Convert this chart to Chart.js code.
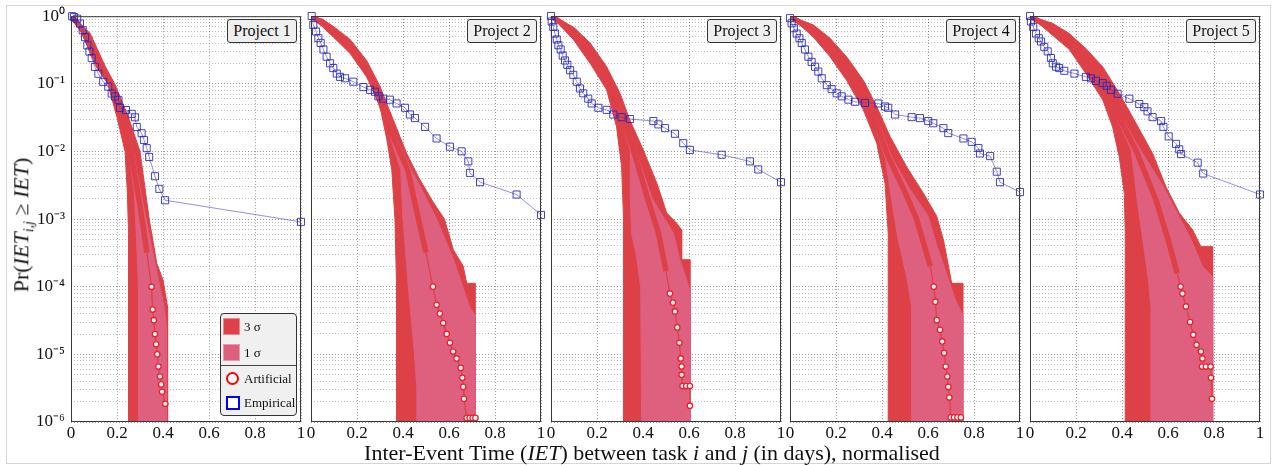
<!DOCTYPE html>
<html>
<head>
<meta charset="utf-8">
<title>Inter-event time distributions</title>
<script src="https://cdn.jsdelivr.net/npm/chart.js@4.4.1/dist/chart.umd.min.js"></script>
<style>
  html, body { margin: 0; padding: 0; background: #fff; }
  body { position: relative; width: 1273px; height: 465px; overflow: hidden;
         font-family: "Liberation Serif", "Times New Roman", serif; color: #111; }
  .frame { position: absolute; left: 6px; top: 5px; width: 1263px; height: 457px; border: 1px solid #d6d6d6; }
  .panel { position: absolute; top: 0; width: 300px; height: 465px; }
  .tag { position: absolute; top: 19px; width: 70px; height: 24px; box-sizing: border-box;
         border: 1px solid #333; border-radius: 3px; background: #efefef;
         font-size: 16px; line-height: 22px; text-align: center; white-space: nowrap; }
  .legend { position: absolute; left: 220px; top: 313px; width: 77px; height: 103px; box-sizing: border-box;
            border: 1px solid #333; border-radius: 4px; background: #f0f0f0; font-size: 13px; }
  .legend .sw { position: absolute; left: 2px; width: 17px; height: 17px; box-sizing: border-box; }
  .legend .lb { position: absolute; left: 23px; line-height: 16px; white-space: nowrap; }
  .legend .sep { position: absolute; left: 0; right: 0; top: 51px; border-top: 1px solid #444; }
  .ytitle { position: absolute; left: 23px; top: 225px; transform: translate(-50%, -50%) rotate(-90deg);
            font-size: 22px; white-space: nowrap; }
  .ytitle sub { font-size: 14px; }
  .xtitle { position: absolute; left: 652px; top: 453px; transform: translate(-50%, -50%);
            font-size: 22px; white-space: nowrap; }
</style>
</head>
<body>
<div class="frame"></div>
<div class="panel" style="left:11px"><canvas id="c0" width="300" height="465"></canvas></div>
<div class="panel" style="left:251px"><canvas id="c1" width="300" height="465"></canvas></div>
<div class="panel" style="left:491px"><canvas id="c2" width="300" height="465"></canvas></div>
<div class="panel" style="left:730px"><canvas id="c3" width="300" height="465"></canvas></div>
<div class="panel" style="left:970px"><canvas id="c4" width="300" height="465"></canvas></div>

<div id="tags"></div>

<div class="legend">
  <div class="sw" style="top:4px;background:#dd4147;border:1px solid #ea8a90"></div><div class="lb" style="top:5px">3 σ</div>
  <div class="sw" style="top:30px;background:#df5f7f;border:1px solid #eb98ae"></div><div class="lb" style="top:31px">1 σ</div>
  <div class="sep"></div>
  <div class="sw" style="top:58px;left:5px;width:13px;height:13px;border:2.5px solid #f00;border-radius:50%;background:#fff"></div><div class="lb" style="top:57px">Artificial</div>
  <div class="sw" style="top:82px;left:5px;width:14px;height:14px;border:2.5px solid #00f;background:#fff"></div><div class="lb" style="top:81px">Empirical</div>
</div>

<div class="ytitle">Pr(<i>IET</i><sub><i>i,j</i></sub> ≥ <i>IET</i>)</div>
<div class="xtitle">Inter-Event Time (<i>IET</i>) between task <i>i</i> and <i>j</i> (in days), normalised</div>

<script>
// ejes
const projects = ['Project 1', 'Project 2', 'Project 3', 'Project 4', 'Project 5'];
const xTicks = [0, 0.2, 0.4, 0.6, 0.8, 1];
const yDecades = [1e-6, 1e-5, 1e-4, 1e-3, 1e-2, 1e-1, 1];
const yTickLabels = ['10⁻⁶', '10⁻⁵', '10⁻⁴', '10⁻³', '10⁻²', '10⁻¹', '10⁰'];
const yMinor = [2, 3, 4, 5, 6, 7, 8, 9];

// Project 1  [x, Pr]
const emp1 = [[0.005,1],[0.013,0.97],[0.027,0.92],[0.039,0.78],[0.051,0.62],[0.061,0.49],[0.071,0.37],[0.08,0.30],[0.09,0.24],[0.104,0.178],[0.119,0.141],[0.14,0.107],[0.162,0.091],[0.177,0.072],[0.191,0.065],[0.206,0.058],[0.213,0.044],[0.239,0.041],[0.264,0.036],[0.278,0.032],[0.286,0.023],[0.307,0.0186],[0.317,0.0148],[0.329,0.0112],[0.34,0.0083],[0.365,0.0043],[0.384,0.0028],[0.409,0.0019],[1,0.00091]];
const mean1 = [[0,1],[0.065,0.56],[0.13,0.178],[0.175,0.1],[0.22,0.032],[0.26,0.01],[0.3,1.58e-3],[0.33,3.2e-4],[0.35,1e-4],[0.355,4.6e-5],[0.36,3.2e-5],[0.365,2e-5],[0.37,1.41e-5],[0.375,1e-5],[0.38,6.6e-6],[0.387,4.7e-6],[0.392,3.6e-6],[0.396,2.8e-6],[0.41,1.86e-6]];
const hi3_1 = [[0,1],[0.083,0.56],[0.15,0.178],[0.19,0.1],[0.25,0.032],[0.3,0.01],[0.34,0.001],[0.373,2.2e-4],[0.4,1.26e-4],[0.416,6e-5],[0.42,5e-5],[0.42,1e-6]];
const lo3_1 = [[0,1],[0.046,0.56],[0.11,0.178],[0.16,0.1],[0.2,0.032],[0.235,0.01],[0.245,2.5e-3],[0.25,6.3e-4],[0.25,1e-6]];
const hi1_1 = [[0,1],[0.072,0.56],[0.137,0.178],[0.182,0.1],[0.228,0.032],[0.27,0.01],[0.315,1.58e-3],[0.35,4e-4],[0.38,1.26e-4],[0.405,5e-5],[0.415,2.5e-5],[0.415,1e-6]];
const lo1_1 = [[0,1],[0.058,0.56],[0.123,0.178],[0.168,0.1],[0.212,0.032],[0.252,0.01],[0.275,2.5e-3],[0.285,5e-4],[0.293,1e-4],[0.293,1e-6]];

// Project 2
const emp2 = [[0.003,1],[0.01,0.74],[0.022,0.59],[0.032,0.47],[0.042,0.40],[0.054,0.32],[0.068,0.25],[0.083,0.2],[0.097,0.17],[0.112,0.141],[0.126,0.126],[0.148,0.12],[0.184,0.107],[0.228,0.089],[0.257,0.081],[0.278,0.076],[0.293,0.065],[0.314,0.06],[0.343,0.058],[0.372,0.051],[0.409,0.044],[0.43,0.035],[0.452,0.031],[0.496,0.023],[0.546,0.0155],[0.604,0.0117],[0.655,0.01],[0.684,7.1e-3],[0.691,4.8e-3],[0.735,3.5e-3],[0.894,2.3e-3],[1,1.15e-3]];
const mean2 = [[0,1],[0.1,0.6],[0.2,0.26],[0.28,0.089],[0.34,0.022],[0.42,5.4e-3],[0.467,1e-3],[0.5,3.2e-4],[0.53,1e-4],[0.546,5.4e-5],[0.56,4e-5],[0.575,2.9e-5],[0.59,2e-5],[0.604,1.48e-5],[0.618,1.1e-5],[0.633,8.7e-6],[0.651,6.3e-6],[0.658,4.5e-6],[0.662,3.3e-6],[0.665,2.2e-6],[0.677,1.15e-6],[0.69,1.15e-6],[0.703,1.15e-6],[0.715,1.15e-6]];
const hi3_2 = [[0,1],[0.05,0.9],[0.1,0.69],[0.17,0.45],[0.242,0.22],[0.3,0.091],[0.358,0.029],[0.416,9.3e-3],[0.47,4e-3],[0.53,1.8e-3],[0.58,1e-3],[0.619,3.5e-4],[0.662,2e-4],[0.677,1.12e-4],[0.713,1.12e-4],[0.713,1e-6]];
const lo3_2 = [[0,1],[0.097,0.49],[0.17,0.28],[0.242,0.126],[0.3,0.046],[0.33,0.0148],[0.351,5.4e-3],[0.365,1e-3],[0.372,1e-4],[0.372,1e-6]];
const hi1_2 = [[0,1],[0.108,0.6],[0.208,0.26],[0.288,0.089],[0.35,0.022],[0.435,5.4e-3],[0.48,2.8e-3],[0.546,1e-3],[0.62,2.5e-4],[0.66,1e-4],[0.69,5e-5],[0.713,3.8e-5],[0.713,1e-6]];
const lo1_2 = [[0,1],[0.092,0.6],[0.192,0.26],[0.272,0.089],[0.332,0.022],[0.39,5.4e-3],[0.4,1e-3],[0.423,1e-4],[0.45,1e-5],[0.46,3.2e-6],[0.46,1e-6]];

// Project 3
const emp3 = [[0,1],[0.003,0.83],[0.01,0.69],[0.017,0.55],[0.025,0.45],[0.032,0.37],[0.042,0.32],[0.051,0.26],[0.061,0.22],[0.071,0.19],[0.083,0.158],[0.097,0.135],[0.112,0.107],[0.126,0.085],[0.14,0.072],[0.162,0.06],[0.177,0.051],[0.206,0.044],[0.242,0.041],[0.271,0.035],[0.307,0.032],[0.343,0.03],[0.445,0.028],[0.467,0.025],[0.496,0.022],[0.539,0.0182],[0.575,0.0132],[0.604,0.0105],[0.742,8.9e-3],[0.865,7.1e-3],[0.901,5.4e-3],[1,3.5e-3]];
const mean3 = [[0,1],[0.1,0.6],[0.2,0.2],[0.26,0.079],[0.31,0.032],[0.36,0.01],[0.42,2e-3],[0.467,6.2e-4],[0.5,1.7e-4],[0.517,7.9e-5],[0.53,5.8e-5],[0.539,4.3e-5],[0.549,2.5e-5],[0.558,1.48e-5],[0.564,8.7e-6],[0.568,6.6e-6],[0.568,5e-6],[0.572,3.4e-6],[0.588,3.4e-6],[0.604,3.4e-6],[0.604,1.74e-6]];
const hi3_3 = [[0,1],[0.097,0.69],[0.17,0.40],[0.242,0.178],[0.3,0.072],[0.343,0.029],[0.401,0.0105],[0.46,3.4e-3],[0.503,1.23e-3],[0.546,8.7e-4],[0.568,6.9e-4],[0.568,2.5e-4],[0.604,2.5e-4],[0.604,1e-6]];
const lo3_3 = [[0,1],[0.097,0.45],[0.17,0.2],[0.242,0.081],[0.285,0.023],[0.307,5.9e-3],[0.315,1.1e-3],[0.315,1e-6]];
const hi1_3 = [[0,1],[0.108,0.6],[0.208,0.2],[0.268,0.079],[0.318,0.032],[0.37,0.01],[0.44,2e-3],[0.532,6.2e-4],[0.56,2.5e-4],[0.59,1.26e-4],[0.604,8.5e-5],[0.604,1e-6]];
const lo1_3 = [[0,1],[0.092,0.6],[0.192,0.2],[0.252,0.079],[0.302,0.032],[0.345,0.01],[0.345,2e-3],[0.35,6.2e-4],[0.37,3e-4],[0.39,1e-4],[0.394,1e-6]];

// Project 4
const emp4 = [[0,0.93],[0.007,0.78],[0.017,0.66],[0.029,0.55],[0.041,0.47],[0.051,0.4],[0.065,0.32],[0.08,0.25],[0.094,0.21],[0.109,0.178],[0.123,0.151],[0.138,0.12],[0.16,0.095],[0.181,0.083],[0.203,0.072],[0.225,0.065],[0.254,0.058],[0.283,0.054],[0.326,0.052],[0.384,0.051],[0.413,0.046],[0.427,0.044],[0.457,0.035],[0.529,0.032],[0.565,0.031],[0.601,0.028],[0.623,0.026],[0.667,0.022],[0.688,0.0186],[0.754,0.0155],[0.79,0.0138],[0.819,0.0112],[0.826,9.3e-3],[0.87,8.5e-3],[0.899,5e-3],[0.913,3.5e-3],[1,2.5e-3]];
const mean4 = [[0,1],[0.1,0.6],[0.2,0.26],[0.3,0.085],[0.37,0.028],[0.43,7.9e-3],[0.5,2.5e-3],[0.55,1e-3],[0.61,2e-4],[0.625,1e-4],[0.632,6e-5],[0.638,3.2e-5],[0.652,2.3e-5],[0.662,1.55e-5],[0.67,1.05e-5],[0.677,6.6e-6],[0.684,4.7e-6],[0.688,3.3e-6],[0.693,2.3e-6],[0.699,1.17e-6],[0.713,1.17e-6],[0.728,1.17e-6],[0.743,1.17e-6]];
const hi3_4 = [[0,1],[0.101,0.74],[0.174,0.47],[0.246,0.25],[0.319,0.112],[0.377,0.046],[0.435,0.0166],[0.507,5.9e-3],[0.58,2.4e-3],[0.638,1.1e-3],[0.667,4.9e-4],[0.681,2.8e-4],[0.703,1.12e-4],[0.751,1.12e-4],[0.751,1e-6]];
const lo3_4 = [[0,1],[0.101,0.49],[0.174,0.25],[0.246,0.112],[0.319,0.041],[0.377,0.0132],[0.413,3.4e-3],[0.427,6.2e-4],[0.427,1e-6]];
const hi1_4 = [[0,1],[0.108,0.6],[0.208,0.26],[0.308,0.085],[0.38,0.028],[0.445,7.9e-3],[0.52,2.8e-3],[0.6,1.12e-3],[0.64,3.9e-4],[0.68,1.58e-4],[0.72,6.3e-5],[0.751,3.8e-5],[0.751,1e-6]];
const lo1_4 = [[0,1],[0.092,0.6],[0.192,0.26],[0.292,0.085],[0.362,0.028],[0.415,7.9e-3],[0.45,1.26e-3],[0.47,5e-4],[0.51,1.26e-4],[0.529,5e-5],[0.529,1e-6]];

// Project 5
const emp5 = [[0,1],[0.004,0.83],[0.014,0.69],[0.026,0.55],[0.038,0.47],[0.048,0.42],[0.062,0.35],[0.077,0.3],[0.091,0.24],[0.099,0.2],[0.113,0.178],[0.127,0.17],[0.149,0.155],[0.193,0.141],[0.243,0.126],[0.265,0.12],[0.287,0.11],[0.316,0.102],[0.333,0.093],[0.352,0.081],[0.381,0.071],[0.432,0.06],[0.475,0.05],[0.497,0.045],[0.511,0.039],[0.533,0.032],[0.57,0.028],[0.58,0.023],[0.603,0.0166],[0.635,0.0129],[0.649,0.0107],[0.657,9.1e-3],[0.729,6.8e-3],[0.753,4.7e-3],[1,2.3e-3]];
const mean5 = [[0,1],[0.1,0.63],[0.2,0.32],[0.3,0.12],[0.38,0.035],[0.46,0.0105],[0.548,1.9e-3],[0.6,5e-4],[0.64,1.58e-4],[0.655,1e-4],[0.663,7.9e-5],[0.678,5.1e-5],[0.696,3e-5],[0.71,1.95e-5],[0.724,1.38e-5],[0.743,1.1e-5],[0.75,8.7e-6],[0.748,6.6e-6],[0.765,6.6e-6],[0.785,6.6e-6],[0.787,4.5e-6],[0.791,2.2e-6]];
const hi3_5 = [[0,1],[0.098,0.78],[0.171,0.55],[0.243,0.33],[0.316,0.178],[0.388,0.072],[0.461,0.026],[0.533,9.3e-3],[0.591,3e-3],[0.649,1.23e-3],[0.707,6.9e-4],[0.743,3.9e-4],[0.794,3.9e-4],[0.794,1e-6]];
const lo3_5 = [[0,1],[0.098,0.52],[0.171,0.32],[0.243,0.141],[0.316,0.058],[0.359,0.023],[0.388,8.3e-3],[0.41,2.4e-3],[0.414,6.2e-4],[0.414,1e-6]];
const hi1_5 = [[0,1],[0.108,0.63],[0.208,0.32],[0.308,0.12],[0.39,0.035],[0.48,0.0105],[0.58,3e-3],[0.65,1.05e-3],[0.7,5e-4],[0.75,2e-4],[0.794,1.41e-4],[0.794,1e-6]];
const lo1_5 = [[0,1],[0.092,0.63],[0.192,0.32],[0.292,0.12],[0.37,0.035],[0.44,0.0105],[0.465,2e-3],[0.49,5e-4],[0.515,1.26e-4],[0.526,5e-5],[0.526,1e-6]];

const panels = [
  {emp: emp1, mean: mean1, hi3: hi3_1, lo3: lo3_1, hi1: hi1_1, lo1: lo1_1},
  {emp: emp2, mean: mean2, hi3: hi3_2, lo3: lo3_2, hi1: hi1_2, lo1: lo1_2},
  {emp: emp3, mean: mean3, hi3: hi3_3, lo3: lo3_3, hi1: hi1_3, lo1: lo1_3},
  {emp: emp4, mean: mean4, hi3: hi3_4, lo3: lo3_4, hi1: hi1_4, lo1: lo1_4},
  {emp: emp5, mean: mean5, hi3: hi3_5, lo3: lo3_5, hi1: hi1_5, lo1: lo1_5}
];

const RED3 = '#dd4147';
const PINK1 = '#df5f7f';
const panelLeft = [71, 311, 551, 790, 1030];
const PLOT_W = 230;

// grid ticks 1..9 x 10^n
const yGrid = [];
yDecades.forEach((d, k) => {
  yGrid.push(d);
  if (k < yDecades.length - 1) yMinor.forEach(m => yGrid.push(d * m));
});

const isDecade = v => Math.abs(Math.log10(v) - Math.round(Math.log10(v))) < 1e-6;
const yLabel = v => {
  const k = yDecades.findIndex(d => Math.abs(d - v) / d < 1e-6);
  return k >= 0 ? yTickLabels[k] : '';
};
const toXY = arr => arr.map(([x, y]) => ({x, y}));
// band polygon: upper edge out, lower edge back
const shape = (hi, lo) => toXY(hi.concat(lo.slice().reverse()));

const frame = {
  id: 'frame',
  afterDatasetsDraw(chart) {
    const {ctx, chartArea: a} = chart;
    ctx.save();
    ctx.strokeStyle = '#3a3a3a';
    ctx.lineWidth = 1;
    ctx.strokeRect(a.left + 0.5, a.top + 0.5, a.right - a.left - 1, a.bottom - a.top - 1);
    ctx.restore();
  }
};

Chart.defaults.font.family = '"Liberation Serif", "Times New Roman", serif';
Chart.defaults.color = '#111';

// project labels
const tags = document.getElementById('tags');
projects.forEach((name, i) => {
  const el = document.createElement('div');
  el.className = 'tag';
  el.style.left = (panelLeft[i] + PLOT_W - 4 - 70) + 'px';
  el.textContent = name;
  tags.appendChild(el);
});

panels.forEach((p, i) => {
  const cut = 1.5e-4;
  new Chart(document.getElementById('c' + i), {
    type: 'line',
    data: {
      datasets: [
        {
          label: 'Empirical',
          data: toXY(p.emp),
          borderColor: 'rgba(70,70,215,0.6)',
          borderWidth: 1,
          pointStyle: 'rect',
          pointRadius: 5,
          pointBorderWidth: 1,
          pointBorderColor: 'rgba(35,35,190,0.85)',
          pointBackgroundColor: 'rgba(0,0,0,0)',
          clip: false
        },
        {
          label: 'Artificial',
          data: toXY(p.mean),
          borderColor: RED3,
          borderWidth: 1.3,
          segment: { borderWidth: c => (c.p1.parsed.y < cut ? 1.3 : 5.5) },
          pointRadius: c => (c.raw && c.raw.y < cut ? 2.7 : 0),
          pointBorderWidth: 1.3,
          pointBorderColor: '#e8222c',
          pointBackgroundColor: '#fff'
        },
        {
          label: '1 σ',
          data: shape(p.hi1, p.lo1),
          fill: 'shape',
          backgroundColor: PINK1,
          borderColor: PINK1,
          borderWidth: 1,
          pointRadius: 0
        },
        {
          label: '3 σ',
          data: shape(p.hi3, p.lo3),
          fill: 'shape',
          backgroundColor: RED3,
          borderColor: RED3,
          borderWidth: 1,
          pointRadius: 0
        }
      ]
    },
    options: {
      responsive: false,
      animation: false,
      devicePixelRatio: 1,
      events: [],
      layout: { padding: { top: 16, right: 10, bottom: 0, left: 0 } },
      plugins: { legend: { display: false }, tooltip: { enabled: false } },
      scales: {
        x: {
          type: 'linear', min: 0, max: 1,
          afterBuildTicks: ax => { ax.ticks = xTicks.map(v => ({value: v})); },
          afterFit: ax => { ax.height = 43; },
          ticks: { autoSkip: false, maxRotation: 0, padding: 1, font: { size: 17 }, callback: v => String(v) },
          grid: { color: 'rgba(0,0,0,0.4)', drawTicks: false },
          border: { display: false, dash: [1, 2] }
        },
        y: {
          type: 'logarithmic', min: 1e-6, max: 1,
          afterBuildTicks: ax => { ax.ticks = yGrid.map(v => ({value: v})); },
          afterFit: ax => { ax.width = 60; },
          ticks: { display: i === 0, autoSkip: false, padding: 6, font: { size: 17 }, callback: v => yLabel(v) },
          grid: {
            color: c => (isDecade(c.tick.value) ? 'rgba(0,0,0,0.42)' : 'rgba(0,0,0,0.26)'),
            drawTicks: false
          },
          border: { display: false, dash: [1, 2] }
        }
      }
    },
    plugins: [frame]
  });
});
</script>
</body>
</html>
